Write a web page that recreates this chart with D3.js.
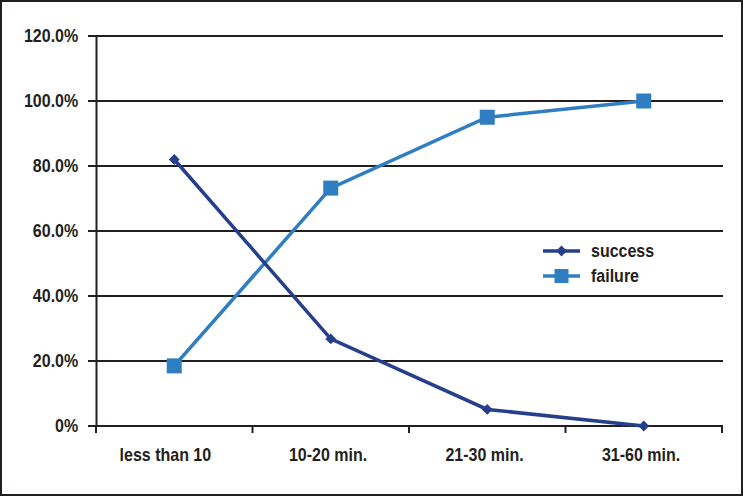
<!DOCTYPE html>
<html>
<head>
<meta charset="utf-8">
<script src="https://cdn.jsdelivr.net/npm/d3@7"></script>
<style>
  body { margin: 0; background: #fff; }
  svg text { font-family: "Liberation Sans Narrow", "Arial Narrow", "Liberation Sans", Arial, sans-serif; font-weight: bold; fill: #231f20; }
</style>
</head>
<body>
<svg id="chart" width="743" height="496"></svg>
<script>
const categories = ['less than 10', '10-20 min.', '21-30 min.', '31-60 min.'];
const success = [82.0, 26.8, 5.1, 0];
const failure = [18.5, 73.2, 95.0, 100];
const yTicks = [0, 20, 40, 60, 80, 100, 120];

const width = 743, height = 496;
const margin = { top: 36, right: 21, bottom: 70, left: 96 };
const squeeze = 'scale(0.89,1)'; // narrow look, no condensed font installed

const svg = d3.select('#chart');

// outer frame
svg.append('rect')
  .attr('x', 1).attr('y', 1)
  .attr('width', width - 2).attr('height', height - 2)
  .attr('fill', 'none').attr('stroke', '#231f20').attr('stroke-width', 2);

const x = d3.scaleBand().domain(categories).range([margin.left, width - margin.right]);
const y = d3.scaleLinear().domain([0, 120]).range([height - margin.bottom, margin.top]);

// gridlines
svg.append('g')
  .selectAll('line')
  .data(yTicks)
  .enter()
  .append('line')
  .attr('x1', margin.left - 8)
  .attr('x2', width - margin.right + 1)
  .attr('y1', d => y(d))
  .attr('y2', d => y(d))
  .attr('stroke', '#231f20')
  .attr('stroke-width', 2);

// y axis
const yAxis = svg.append('g')
  .attr('transform', `translate(${margin.left},0)`)
  .call(d3.axisLeft(y).tickValues(yTicks).tickSize(0).tickPadding(20)
    .tickFormat(d => d === 0 ? '0%' : d3.format('.1f')(d) + '%'));
yAxis.select('.domain').attr('stroke', '#231f20').attr('stroke-width', 2);
yAxis.selectAll('text').attr('font-size', 18).attr('transform', squeeze).style('font-family', null);

// x axis
const xAxis = svg.append('g')
  .attr('transform', `translate(0,${y(0)})`)
  .call(d3.axisBottom(x).tickSize(0).tickPadding(22));
xAxis.select('.domain').remove();
xAxis.selectAll('text').attr('font-size', 18).attr('transform', squeeze)
  .attr('x', (d, i) => i === 0 ? -10 : -3).style('font-family', null);

const edges = categories.map(c => x(c)).concat([x.range()[1]]);
svg.append('g')
  .selectAll('line')
  .data(edges)
  .enter()
  .append('line')
  .attr('x1', d => d).attr('x2', d => d)
  .attr('y1', y(0)).attr('y2', y(0) + 7)
  .attr('stroke', '#231f20').attr('stroke-width', 2);

const cx = c => x(c) + x.bandwidth() / 2;

const line = d3.line()
  .x((d, i) => cx(categories[i]))
  .y(d => y(d));

const failColor = '#2f7ec2';
const succColor = '#263f8c';

svg.append('path')
  .datum(failure)
  .attr('fill', 'none')
  .attr('stroke', failColor)
  .attr('stroke-width', 3.5)
  .attr('d', line);

svg.append('path')
  .datum(success)
  .attr('fill', 'none')
  .attr('stroke', succColor)
  .attr('stroke-width', 3.5)
  .attr('d', line);

svg.append('g')
  .selectAll('rect')
  .data(failure)
  .enter()
  .append('rect')
  .attr('x', (d, i) => cx(categories[i]) - 7.5)
  .attr('y', d => y(d) - 7.5)
  .attr('width', 15).attr('height', 15)
  .attr('fill', failColor);

const diamond = d3.symbol().type(d3.symbolDiamond2).size(75);
svg.append('g')
  .selectAll('path')
  .data(success)
  .enter()
  .append('path')
  .attr('transform', (d, i) => `translate(${cx(categories[i])},${y(d)})`)
  .attr('d', diamond)
  .attr('fill', succColor);

// legend
const legend = [
  { name: 'success', color: succColor, type: 'diamond' },
  { name: 'failure', color: failColor, type: 'square' }
];
const lg = svg.append('g').attr('transform', 'translate(543,251)');
legend.forEach((s, i) => {
  const g = lg.append('g').attr('transform', `translate(0,${i * 25})`);
  g.append('line').attr('x1', 0).attr('x2', 37).attr('y1', 0).attr('y2', 0)
    .attr('stroke', s.color).attr('stroke-width', 3.5);
  if (s.type === 'diamond') {
    g.append('path').attr('transform', 'translate(18.5,0)').attr('d', diamond).attr('fill', s.color);
  } else {
    g.append('rect').attr('x', 11.5).attr('y', -7).attr('width', 14).attr('height', 14).attr('fill', s.color);
  }
  g.append('text').attr('transform', 'translate(48,0) ' + squeeze).attr('dy', '0.35em')
    .attr('font-size', 18).text(s.name);
});
</script>
</body>
</html>
